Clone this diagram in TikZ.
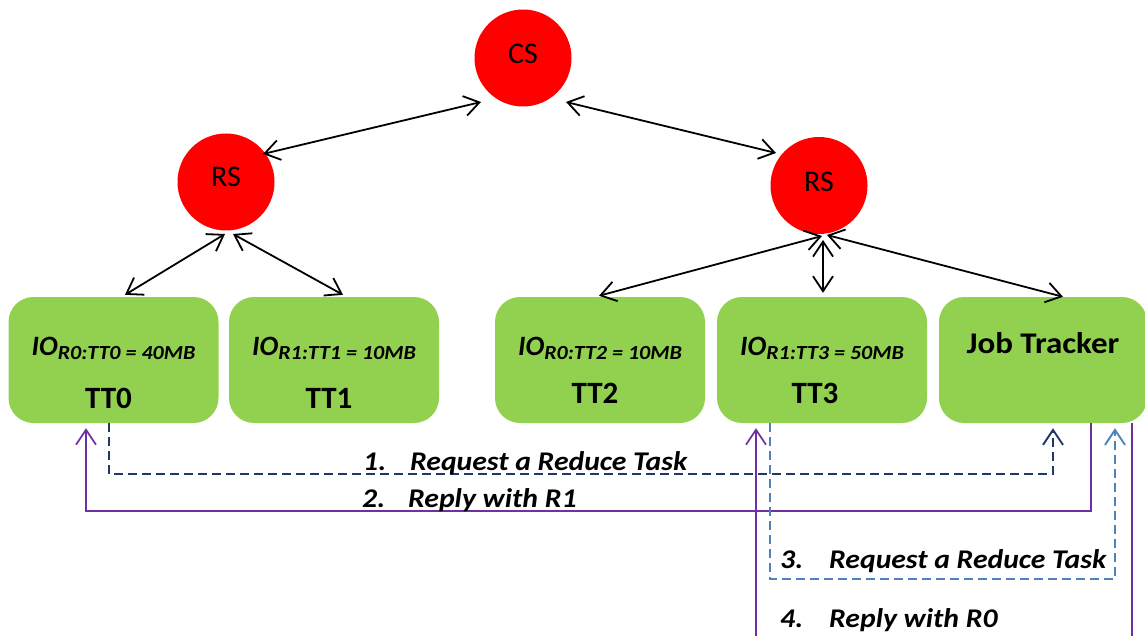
\documentclass[tikz,border=0pt]{standalone}
\usepackage{fontspec}
\setmainfont{Carlito}
\usetikzlibrary{arrows.meta,calc}

\definecolor{nodered}{HTML}{FF0000}
\definecolor{boxgreen}{HTML}{92D050}
\definecolor{msgpurple}{HTML}{7030A0}
\definecolor{msgnavy}{HTML}{1F3864}
\definecolor{msgblue}{HTML}{4F81BD}

% IO value: large "IO" followed by a lowered subscript
\newcommand\ioval[1]{{\fontsize{28}{28}\selectfont\bfseries\itshape IO}\raisebox{-4pt}{\scalebox{1.1}[1]{\fontsize{20}{20}\selectfont\bfseries\itshape #1}}}
% slightly widened text
\newcommand\wide[1]{\scalebox{1.1}[1]{#1}}

\begin{document}
\begin{tikzpicture}[x=1pt,y=1pt,
  server/.style={circle, fill=nodered, inner sep=0pt, minimum size=97pt,
    font=\fontsize{30}{30}\selectfont},
  tracker/.style={rectangle, rounded corners=25pt, fill=boxgreen, inner sep=0pt,
    minimum width=210pt, minimum height=126pt},
  iotext/.style={anchor=base, inner sep=0pt},
  nametext/.style={anchor=base, inner sep=0pt, font=\fontsize{31}{31}\selectfont\bfseries},
  tip/.tip={Straight Barb[length=15pt,width=20pt]},
  link/.style={line width=1.8pt, tip-tip},
  msg/.style={line width=1.7pt, -tip},
  request/.style={msg, line width=1.9pt, dash pattern=on 9pt off 5pt},
  steplabel/.style={anchor=base west, inner sep=0pt,
    font=\fontsize{27}{27}\selectfont\bfseries\itshape}
]
\useasboundingbox (0,0) rectangle (1145,-636);
\clip (0,0) rectangle (1145,-636);

% servers
\node[server] (cs)  at (523,-58)    {\raisebox{8pt}{CS}};
\node[server] (rsl) at (226,-182)   {\raisebox{10pt}{RS}};
\node[server] (rsr) at (819,-185.5) {\raisebox{7pt}{RS}};

% task trackers and job tracker
\node[tracker] (tt0) at (113.5,-360) {};
\node[tracker] (tt1) at (334,-360)   {};
\node[tracker] (tt2) at (600,-360)   {};
\node[tracker] (tt3) at (822,-360)   {};
\node[tracker, minimum width=208pt] (jt) at (1043,-360) {};

\node[iotext] (io0) at (113.5,-355) {\ioval{R0:TT0 = 40MB}};
\node[iotext] (io1) at (334,-355)   {\ioval{R1:TT1 = 10MB}};
\node[iotext] (io2) at (600,-355)   {\ioval{R0:TT2 = 10MB}};
\node[iotext] (io3) at (822,-355)   {\ioval{R1:TT3 = 50MB}};

\node[nametext] (n0) at (108.5,-408) {TT0};
\node[nametext] (n1) at (329,-408)   {TT1};
\node[nametext] (n2) at (595,-403)   {TT2};
\node[nametext] (n3) at (815,-403)   {TT3};
\node[nametext, font=\fontsize{30}{30}\selectfont\bfseries] (njt) at (1043,-353) {\wide{Job Tracker}};

% server links
\draw[link] ($(rsl)+(37,28)$) -- ($(cs)+(-42,-44)$);
\draw[link] ($(cs)+(43,-44)$) -- ($(rsr)+(-43,32.5)$);
\draw[link] ($(rsl)+(-1,-52)$) -- ($(tt0.north)+(11.5,2)$);
\draw[link] ($(rsl)+(7,-52)$) -- ($(tt1.north)+(9,2)$);
\draw[link] ($(rsr)+(3,-50.5)$) -- ($(tt2.north)+(-1,1)$);
\draw[link] ($(rsr)+(4,-54.5)$) -- ($(tt3.north)+(1,4)$);
\draw[link] ($(rsr)+(8,-49.5)$) -- ($(jt.north)+(20,0)$);

% request / reply messages
\draw[request, msgnavy] ($(tt0.south)+(-4.5,0)$) |- ($(jt.south)+(10,-51)$)
  -- ($(jt.south)+(10,-5)$);
\draw[msg, msgpurple] ($(jt.south)+(48,0)$) |- ($(tt0.south)+(-27.5,-88)$)
  -- ($(tt0.south)+(-27.5,-5)$);
\draw[request, msgblue] ($(tt3.south)+(-52,0)$) |- ($(jt.south)+(72,-156)$)
  -- ($(jt.south)+(72,-5)$);
\draw[msg, msgpurple] ($(jt.south)+(89,0)$) -- ++(0,-300)
  -| ($(tt3.south)+(-66,-5)$);

% message labels
\node[steplabel] (s1) at (363,-470) {\makebox[47pt][l]{\wide{1.}}\wide{Request a Reduce Task}};
\node[steplabel] (s2) at (362,-507) {\makebox[46pt][l]{\wide{2.}}\wide{Reply with R1}};
\node[steplabel] (s3) at (780,-568) {\makebox[49pt][l]{\wide{3.}}\wide{Request a Reduce Task}};
\node[steplabel] (s4) at (780,-627) {\makebox[49pt][l]{\wide{4.}}\wide{Reply with R0}};
\end{tikzpicture}
\end{document}
